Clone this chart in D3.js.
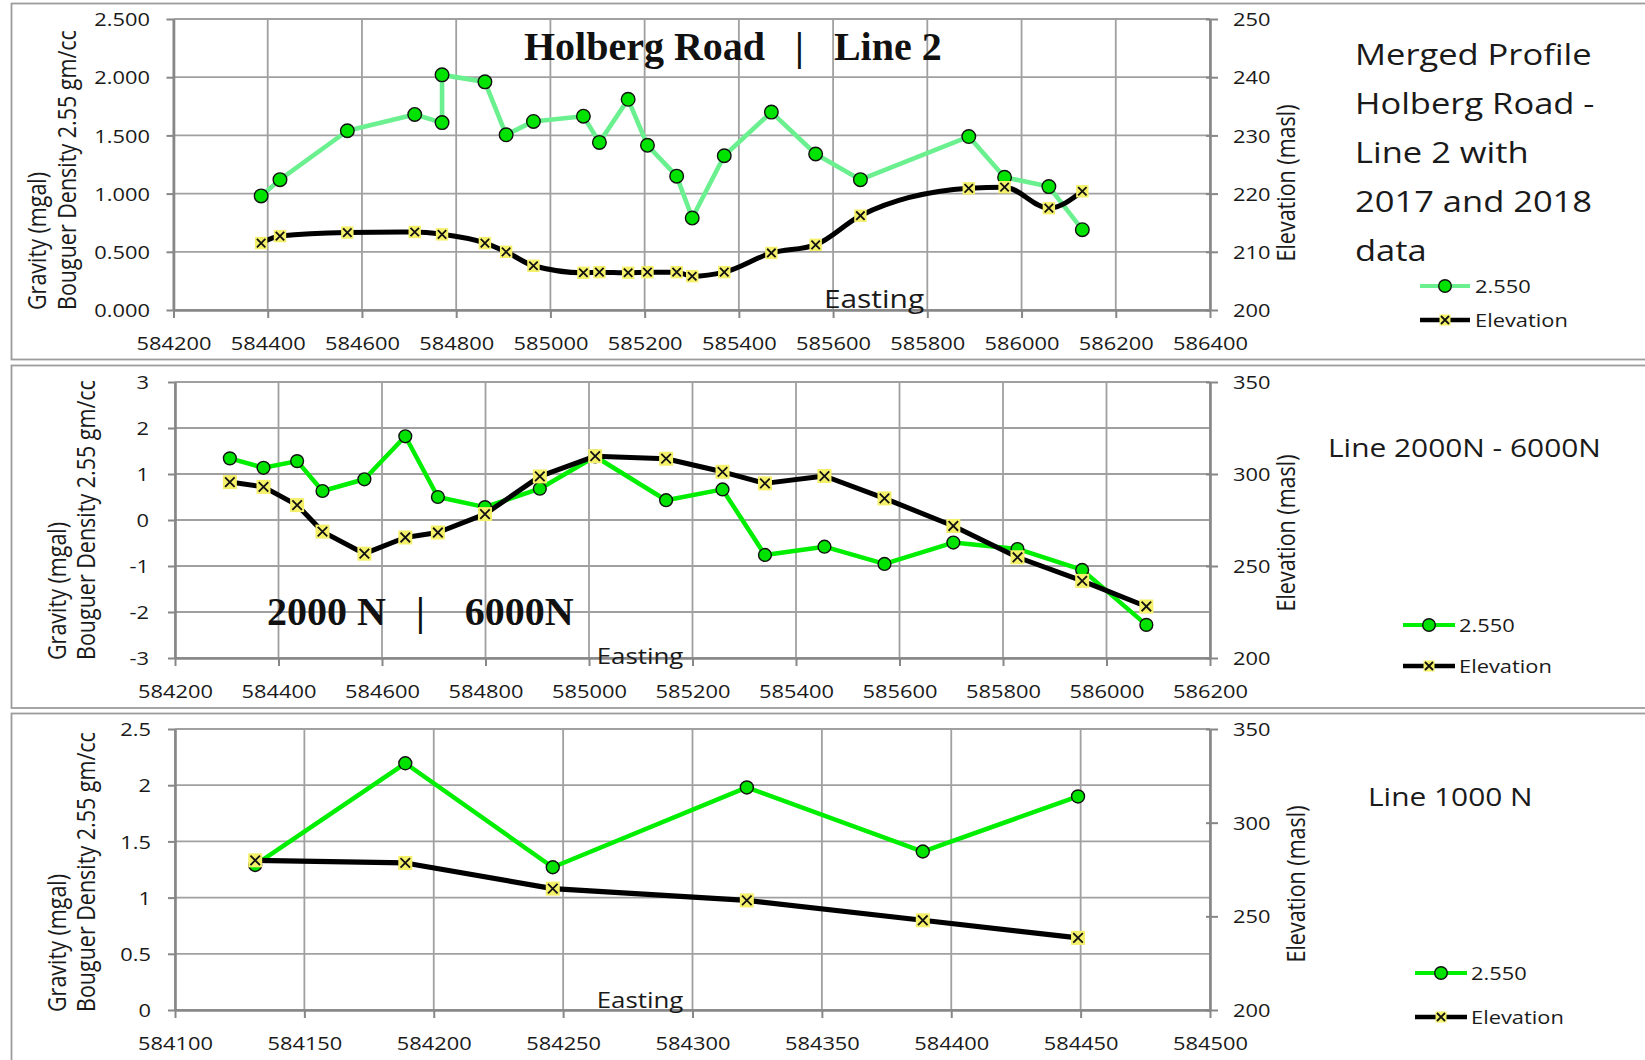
<!DOCTYPE html>
<html>
<head>
<meta charset="utf-8">
<script src="https://cdn.jsdelivr.net/npm/d3@7"></script>
<style>
  html, body { margin: 0; padding: 0; background: #fff; }
  svg { display: block; }
  text { font-family: "Open Sans", "Noto Sans", sans-serif; }
</style>
</head>
<body>
<script>
// ---------- Holberg Road, Line 2 (merged 2017 + 2018 profile) ----------
const line2GravityEasting = [584386, 584426, 584569, 584712, 584770, 584770, 584861, 584906, 584964, 585070,
  585104, 585165, 585206, 585268, 585301, 585369, 585469, 585563, 585658, 585888, 585964, 586058, 586129];
const line2Gravity = [0.98, 1.12, 1.54, 1.68, 1.61, 2.02, 1.96, 1.505, 1.62, 1.665,
  1.44, 1.81, 1.415, 1.15, 0.79, 1.325, 1.70, 1.34, 1.12, 1.49, 1.14, 1.06, 0.69];
const line2ElevEasting = [584386, 584426, 584569, 584712, 584770, 584861, 584906, 584964, 585070, 585104,
  585165, 585206, 585268, 585301, 585369, 585469, 585563, 585658, 585888, 585964, 586058, 586129];
const line2Elevation = [211.5, 212.7, 213.3, 213.4, 213.0, 211.5, 210.0, 207.6, 206.4, 206.5,
  206.4, 206.5, 206.5, 205.8, 206.5, 209.8, 211.2, 216.2, 220.9, 221.1, 217.5, 220.4];
const line2XTicks = [584200, 584400, 584600, 584800, 585000, 585200, 585400, 585600, 585800, 586000, 586200, 586400];
const line2GravityTicks = [0, 0.5, 1, 1.5, 2, 2.5];
const line2ElevTicks = [200, 210, 220, 230, 240, 250];

// ---------- Line 2000N - 6000N ----------
const crossAEasting = [584306, 584371, 584436, 584485, 584566, 584645, 584708, 584799, 584905, 585012,
  585149, 585258, 585340, 585455, 585571, 585704, 585828, 585953, 586077];
const crossAGravity = [1.34, 1.135, 1.28, 0.63, 0.885, 1.82, 0.50, 0.28, 0.68, 1.38,
  0.43, 0.665, -0.76, -0.58, -0.955, -0.49, -0.63, -1.085, -2.28];
const crossAElevation = [295.6, 293.0, 283.1, 268.7, 256.7, 265.5, 268.2, 278.2, 298.7, 309.7,
  308.3, 301.2, 294.9, 298.9, 286.75, 271.75, 254.75, 241.9, 228.0];
const crossAXTicks = [584200, 584400, 584600, 584800, 585000, 585200, 585400, 585600, 585800, 586000, 586200];
const crossAGravityTicks = [-3, -2, -1, 0, 1, 2, 3];
const crossAElevTicks = [200, 250, 300, 350];

// ---------- Line 1000 N ----------
const crossBEasting = [584131, 584189, 584246, 584321, 584389, 584449];
const crossBGravity = [1.29, 2.195, 1.27, 1.98, 1.41, 1.90];
const crossBElevation = [279.9, 278.5, 264.8, 258.5, 247.9, 238.5];
const crossBXTicks = [584100, 584150, 584200, 584250, 584300, 584350, 584400, 584450, 584500];
const crossBGravityTicks = [0, 0.5, 1, 1.5, 2, 2.5];
const crossBElevTicks = [200, 250, 300, 350];

const seriesNames = ["2.550", "Elevation"];
const gravityTitle = ["Gravity (mgal)", "Bouguer Density 2.55 gm/cc"];
const elevTitle = "Elevation (masl)";
const xTitle = "Easting";

// ---------- drawing ----------
const W = 1645, H = 1060;
const K = 1.15;               // horizontal stretch of the sans-serif lettering
const INK = "#1a1a1a";
const GRID = "#a0a0a0", AXIS = "#878787";
const NB = "\u00a0";

const svg = d3.select("body").append("svg").attr("width", W).attr("height", H);

const panels = [
  {
    frame: [11.5, 3.5, 1700, 356],
    plot: { l: 173.5, r: 1210, t: 19, b: 310 },
    xDomain: [584200, 586400], gDomain: [0, 2.5], eDomain: [200, 250],
    xTicks: line2XTicks, gTicks: line2GravityTicks, eTicks: line2ElevTicks,
    gFmt: d3.format(".3f"),
    gravX: line2GravityEasting, grav: line2Gravity,
    elevX: line2ElevEasting, elev: line2Elevation,
    gravColor: "#6af08e", gravWidth: 4.6, elevWidth: 5, curve: d3.curveMonotoneX,
    r: 6.8, xm: 6.2,
    xLabelY: 343, leftLabelEnd: 150,
    east: { x: 874, y: 308, size: 26 },
    gTitle: { x1: 46, x2: 76, y0: 310 }, eTitle: { x: 1295, cy: 183 },
    note: { x: 1355, y0: 65, step: 49, size: 30,
      lines: ["Merged Profile", "Holberg Road -", "Line 2 with", "2017 and 2018", "data"] },
    legend: { x1: 1420, x2: 1470, y1: 286, y2: 320, tx: 1475 },
    banner: { text: "Holberg Road" + NB.repeat(3) + "|" + NB.repeat(3) + "Line 2", x: 524, y: 60 }
  },
  {
    frame: [11.5, 365.5, 1700, 342.5],
    plot: { l: 175, r: 1210, t: 382, b: 658 },
    xDomain: [584200, 586200], gDomain: [-3, 3], eDomain: [200, 350],
    xTicks: crossAXTicks, gTicks: crossAGravityTicks, eTicks: crossAElevTicks,
    gFmt: d => String(d),
    gravX: crossAEasting, grav: crossAGravity,
    elevX: crossAEasting, elev: crossAElevation,
    gravColor: "#00ee00", gravWidth: 4.5, elevWidth: 5, curve: d3.curveLinear,
    r: 6.4, xm: 7,
    xLabelY: 691, leftLabelEnd: 149,
    east: { x: 640, y: 664, size: 22.5 },
    gTitle: { x1: 66, x2: 95, y0: 660 }, eTitle: { x: 1295, cy: 533 },
    note: { x: 1328, y0: 457, step: 0, size: 26, lines: ["Line 2000N - 6000N"] },
    legend: { x1: 1403, x2: 1455, y1: 625, y2: 666, tx: 1459 },
    banner: { text: "2000 N" + NB.repeat(3) + "|" + NB.repeat(4) + "6000N", x: 267, y: 625 }
  },
  {
    frame: [11.5, 713.5, 1700, 400],
    plot: { l: 175, r: 1210, t: 729, b: 1010 },
    xDomain: [584100, 584500], gDomain: [0, 2.5], eDomain: [200, 350],
    xTicks: crossBXTicks, gTicks: crossBGravityTicks, eTicks: crossBElevTicks,
    gFmt: d => String(d),
    gravX: crossBEasting, grav: crossBGravity,
    elevX: crossBEasting, elev: crossBElevation,
    gravColor: "#00ee00", gravWidth: 4.5, elevWidth: 5.2, curve: d3.curveLinear,
    r: 6.5, xm: 7,
    xLabelY: 1043, leftLabelEnd: 151,
    east: { x: 640, y: 1008, size: 22.5 },
    gTitle: { x1: 66, x2: 95, y0: 1012 }, eTitle: { x: 1305, cy: 884 },
    note: { x: 1368, y0: 806, step: 0, size: 26, lines: ["Line 1000 N"] },
    legend: { x1: 1415, x2: 1467, y1: 973, y2: 1017, tx: 1471 },
    banner: null
  }
];

function sansText(g, x, y, str, size, anchor) {
  return g.append("text")
    .attr("transform", `translate(${x},${y}) scale(${K},1)`)
    .attr("text-anchor", anchor || "start")
    .style("font-size", size + "px")
    .style("fill", INK)
    .text(str);
}

function elevMarker(sel, s, a) {
  sel.append("rect").attr("x", -s / 2).attr("y", -s / 2).attr("width", s).attr("height", s)
    .attr("fill", "#f4f06a");
  sel.append("path").attr("d", `M${-a},${-a}L${a},${a}M${-a},${a}L${a},${-a}`)
    .attr("stroke", "#111").attr("stroke-width", 1.8).attr("fill", "none");
}

function drawPanel(p) {
  const g = svg.append("g");
  g.append("rect")
    .attr("x", p.frame[0]).attr("y", p.frame[1]).attr("width", p.frame[2]).attr("height", p.frame[3])
    .attr("fill", "#fff").attr("stroke", "#9c9c9c").attr("stroke-width", 1.8);

  const x = d3.scaleLinear().domain(p.xDomain).range([p.plot.l, p.plot.r]);
  const yG = d3.scaleLinear().domain(p.gDomain).range([p.plot.b, p.plot.t]);
  const yE = d3.scaleLinear().domain(p.eDomain).range([p.plot.b, p.plot.t]);

  // gridlines
  const grid = g.append("g").attr("stroke", GRID).attr("stroke-width", 1.8);
  grid.selectAll("line.v").data(p.xTicks).join("line").attr("class", "v")
    .attr("x1", d => x(d)).attr("x2", d => x(d)).attr("y1", p.plot.t).attr("y2", p.plot.b);
  grid.selectAll("line.h").data(p.gTicks).join("line").attr("class", "h")
    .attr("x1", p.plot.l).attr("x2", p.plot.r).attr("y1", d => yG(d)).attr("y2", d => yG(d));

  // axes
  const axL = g.append("g").attr("transform", `translate(${p.plot.l},0)`)
    .call(d3.axisLeft(yG).tickValues(p.gTicks).tickFormat(p.gFmt).tickSize(7).tickSizeOuter(0));
  const axB = g.append("g").attr("transform", `translate(0,${p.plot.b})`)
    .call(d3.axisBottom(x).tickValues(p.xTicks).tickFormat(d3.format("d")).tickSize(8).tickSizeOuter(0));
  const axR = g.append("g").attr("transform", `translate(${p.plot.r},0)`)
    .call(d3.axisRight(yE).tickValues(p.eTicks).tickFormat(d3.format("d")).tickSize(8).tickSizeOuter(0));
  [axL, axB, axR].forEach(a => {
    a.select(".domain").attr("stroke", AXIS).attr("stroke-width", 2.6);
    a.selectAll(".tick line").attr("stroke", AXIS).attr("stroke-width", 2);
    a.selectAll(".tick text").attr("x", 0).attr("y", 0).attr("dy", "0.35em")
      .style("font-size", "19px").style("fill", INK);
  });
  axR.selectAll(".tick line").attr("x1", -4);
  axL.selectAll(".tick text").attr("transform", `translate(${p.leftLabelEnd - p.plot.l},0) scale(${K},1)`);
  axB.selectAll(".tick text").attr("transform", `translate(0,${p.xLabelY - p.plot.b}) scale(${K},1)`);
  axR.selectAll(".tick text").attr("transform", `translate(23,0) scale(${K},1)`);

  // gravity series
  const gpts = p.gravX.map((e, i) => ({ e, v: p.grav[i] }));
  const epts = p.elevX.map((e, i) => ({ e, v: p.elev[i] }));
  g.append("path").datum(gpts)
    .attr("d", d3.line().x(d => x(d.e)).y(d => yG(d.v)))
    .attr("fill", "none").attr("stroke", p.gravColor).attr("stroke-width", p.gravWidth)
    .attr("stroke-linejoin", "round");
  g.append("g").selectAll("circle").data(gpts).join("circle")
    .attr("cx", d => x(d.e)).attr("cy", d => yG(d.v)).attr("r", p.r)
    .attr("fill", "#00e200").attr("stroke", "#111").attr("stroke-width", 1.4);

  // elevation series (secondary axis)
  g.append("path").datum(epts)
    .attr("d", d3.line().curve(p.curve).x(d => x(d.e)).y(d => yE(d.v)))
    .attr("fill", "none").attr("stroke", "#000").attr("stroke-width", p.elevWidth)
    .attr("stroke-linejoin", "round");
  g.append("g").selectAll("g").data(epts).join("g")
    .attr("transform", d => `translate(${x(d.e)},${yE(d.v)})`)
    .each(function () { elevMarker(d3.select(this), p.xm * 2, p.xm * 0.68); });

  // axis titles
  const gt = g.append("g");
  [[gravityTitle[0], p.gTitle.x1], [gravityTitle[1], p.gTitle.x2]].forEach(([s, bx]) => {
    gt.append("text")
      .attr("transform", `translate(${bx},${p.gTitle.y0}) scale(${K},1) rotate(-90)`)
      .attr("text-anchor", "start").style("font-size", "21.5px").style("fill", INK).text(s);
  });
  gt.append("text")
    .attr("transform", `translate(${p.eTitle.x},${p.eTitle.cy}) scale(${K},1) rotate(-90)`)
    .attr("text-anchor", "middle").style("font-size", "21.5px").style("fill", INK).text(elevTitle);
  sansText(g, p.east.x, p.east.y, xTitle, p.east.size, "middle");

  // description block
  p.note.lines.forEach((s, i) => sansText(g, p.note.x, p.note.y0 + i * p.note.step, s, p.note.size));

  // legend
  const lg = g.append("g");
  const mid = (p.legend.x1 + p.legend.x2) / 2;
  lg.append("line").attr("x1", p.legend.x1).attr("x2", p.legend.x2).attr("y1", p.legend.y1).attr("y2", p.legend.y1)
    .attr("stroke", p.gravColor).attr("stroke-width", 4.2);
  lg.append("circle").attr("cx", mid).attr("cy", p.legend.y1).attr("r", 6.3)
    .attr("fill", "#00e200").attr("stroke", "#111").attr("stroke-width", 1.4);
  lg.append("line").attr("x1", p.legend.x1).attr("x2", p.legend.x2).attr("y1", p.legend.y2).attr("y2", p.legend.y2)
    .attr("stroke", "#000").attr("stroke-width", 4.6);
  elevMarker(lg.append("g").attr("transform", `translate(${mid},${p.legend.y2})`), 11, 4);
  sansText(lg, p.legend.tx, p.legend.y1, seriesNames[0], 19).attr("dy", "0.35em");
  sansText(lg, p.legend.tx, p.legend.y2, seriesNames[1], 19).attr("dy", "0.35em");

  // bold serif heading
  if (p.banner) {
    g.append("text").attr("x", p.banner.x).attr("y", p.banner.y)
      .style("font-family", "'Liberation Serif', 'DejaVu Serif', serif")
      .style("font-weight", "bold").style("font-size", "40px").style("fill", "#111")
      .text(p.banner.text);
  }
}

panels.forEach(drawPanel);
</script>
</body>
</html>
